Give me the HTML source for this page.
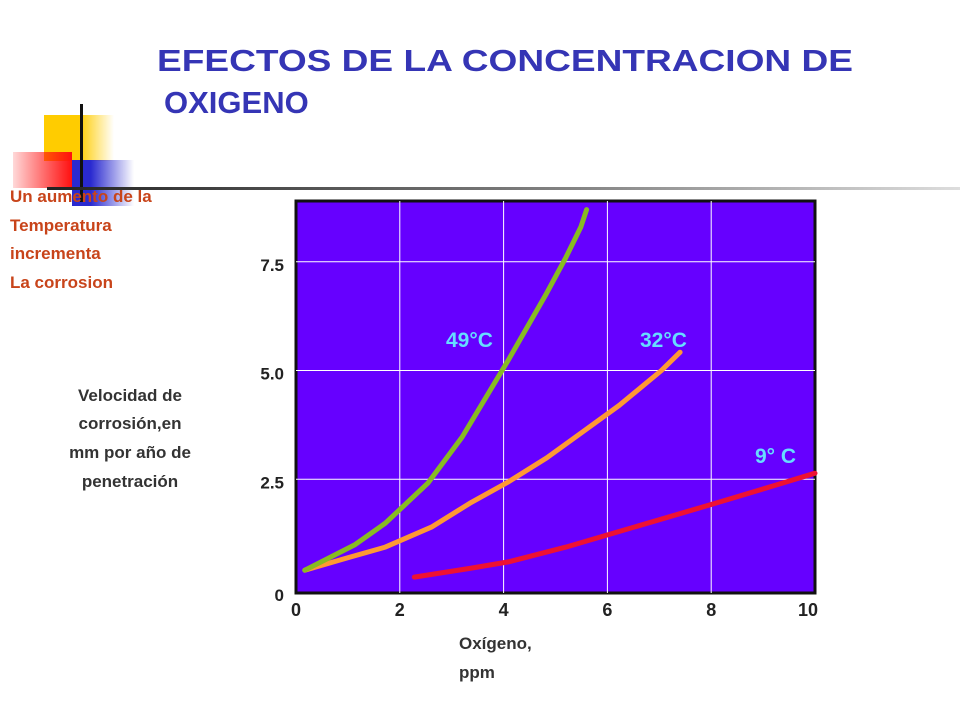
<!DOCTYPE html>
<html><head><meta charset="utf-8"><style>
html,body{margin:0;padding:0;background:#fff;}
body{width:960px;height:720px;overflow:hidden;position:relative;font-family:"Liberation Sans",Arial,sans-serif;}
</style></head><body>
<svg width="960" height="720" viewBox="0 0 960 720" xmlns="http://www.w3.org/2000/svg" style="position:absolute;left:0;top:0">
<defs>
<linearGradient id="gy" x1="0" x2="1"><stop offset="0.5" stop-color="#ffcc00"/><stop offset="1" stop-color="#ffcc00" stop-opacity="0"/></linearGradient>
<linearGradient id="gr" x1="0" x2="1"><stop offset="0" stop-color="#ff0000" stop-opacity="0.15"/><stop offset="1" stop-color="#ff1010"/></linearGradient>
<linearGradient id="gb" x1="0" x2="1"><stop offset="0.3" stop-color="#2a2ad0"/><stop offset="1" stop-color="#2a2ad0" stop-opacity="0"/></linearGradient>
<linearGradient id="gl" x1="0" x2="1"><stop offset="0" stop-color="#222"/><stop offset="0.6" stop-color="#888"/><stop offset="1" stop-color="#ddd"/></linearGradient>
</defs>
<g>
<rect x="44" y="115" width="70" height="46" fill="url(#gy)"/>
<rect x="72" y="160" width="62" height="46" fill="url(#gb)"/>
<rect x="13" y="152" width="59" height="36" fill="url(#gr)"/>
<rect x="80" y="104" width="3" height="98" fill="#111"/>
<rect x="47" y="187" width="913" height="3" fill="url(#gl)"/>
</g>
<text x="157" y="71" font-size="31" font-weight="bold" fill="#3535b5" textLength="696" lengthAdjust="spacingAndGlyphs">EFECTOS DE LA CONCENTRACION DE</text>
<text x="164" y="113" font-size="31" font-weight="bold" fill="#3535b5">OXIGENO</text>
<g font-size="17" font-weight="bold" fill="#c8441a">
<text x="10" y="202">Un aumento de la</text>
<text x="10" y="231">Temperatura</text>
<text x="10" y="259">incrementa</text>
<text x="10" y="288">La corrosion</text>
</g>
<g font-size="17" font-weight="bold" fill="#333" text-anchor="middle">
<text x="130" y="401">Velocidad de</text>
<text x="130" y="429">corrosión,en</text>
<text x="130" y="458">mm por año de</text>
<text x="130" y="487">penetración</text>
</g>
<g font-size="17" font-weight="bold" fill="#333">
<text x="459" y="649">Oxígeno,</text>
<text x="459" y="678">ppm</text>
</g>
<g id="chart"></g>
</svg>
<script>
const xTicks=[0,2,4,6,8,10];
const yTicks=[0,2.5,5.0,7.5];
const yTickLabels=["0","2.5","5.0","7.5"];
const x49=[0.17,1.13,1.72,2.54,3.2,4.09,4.83,5.2,5.49,5.6];
const y49=[0.41,0.99,1.49,2.41,3.47,5.24,6.78,7.6,8.3,8.7];
const x32=[0.17,0.98,1.72,2.61,3.35,4.09,4.83,5.57,6.23,7.04,7.4];
const y32=[0.41,0.69,0.94,1.4,1.95,2.44,2.99,3.63,4.2,5.0,5.42];
const x9=[2.28,3.35,4.09,5.2,6.2,8.17,9.26,10];
const y9=[0.25,0.45,0.6,0.94,1.29,1.98,2.37,2.64];
const seriesLabels=["49°C","32°C","9° C"];

const NS="http://www.w3.org/2000/svg";
const L=296,R=815,T=201,B=593;
const sx=v=>L+v/10*(R-L);
const sy=v=>588-v*43.5;
const g=document.getElementById('chart');
function mk(tag,attrs,parent){const e=document.createElementNS(NS,tag);for(const k in attrs)e.setAttribute(k,attrs[k]);(parent||g).appendChild(e);return e;}
const bg=mk('rect',{x:L,y:T,width:R-L,height:B-T,fill:'#6600ff',stroke:'#111','stroke-width':3});


xTicks.forEach((t,i)=>{
  if(i>0&&i<xTicks.length-1){const ln=mk('line',{x1:sx(t),x2:sx(t),y1:T,y2:B,stroke:'#fff','stroke-width':1});
  
  }
  const tx=mk('text',{x:Math.min(sx(t),808),y:616,'font-size':18,'font-weight':'bold','text-anchor':'middle',fill:'#222'});
  tx.textContent=String(t);
  
  
});
yTicks.forEach((t,i)=>{
  if(t>0){const ln=mk('line',{x1:L,x2:R,y1:sy(t),y2:sy(t),stroke:'#fff','stroke-width':1});
  
  }
  const tx=mk('text',{x:284,y:(t===0?601:sy(t)+9),'font-size':17,'font-weight':'bold','text-anchor':'end',fill:'#222'});
  tx.textContent=yTickLabels[i];
  
  
});
function line(xs,ys,color,name){
  let d='';xs.forEach((x,i)=>{d+=(i?'L':'M')+sx(x).toFixed(1)+','+sy(ys[i]).toFixed(1);});
  const p=mk('path',{d:d,fill:'none',stroke:color,'stroke-width':5,'stroke-linecap':'round','stroke-linejoin':'round'});
  
  
}
line(x9,y9,'#ee1133','line-9c');
line(x32,y32,'#ff9933','line-32c');
line(x49,y49,'#88bb22','line-49c');
const lbls=[[446,347],[640,347],[755,463]];
seriesLabels.forEach((s,i)=>{
  const tx=mk('text',{x:lbls[i][0],y:lbls[i][1],'font-size':21,'font-weight':'bold',fill:'#66ddff'});
  tx.textContent=s;
  
  
});
</script>
</body></html>
